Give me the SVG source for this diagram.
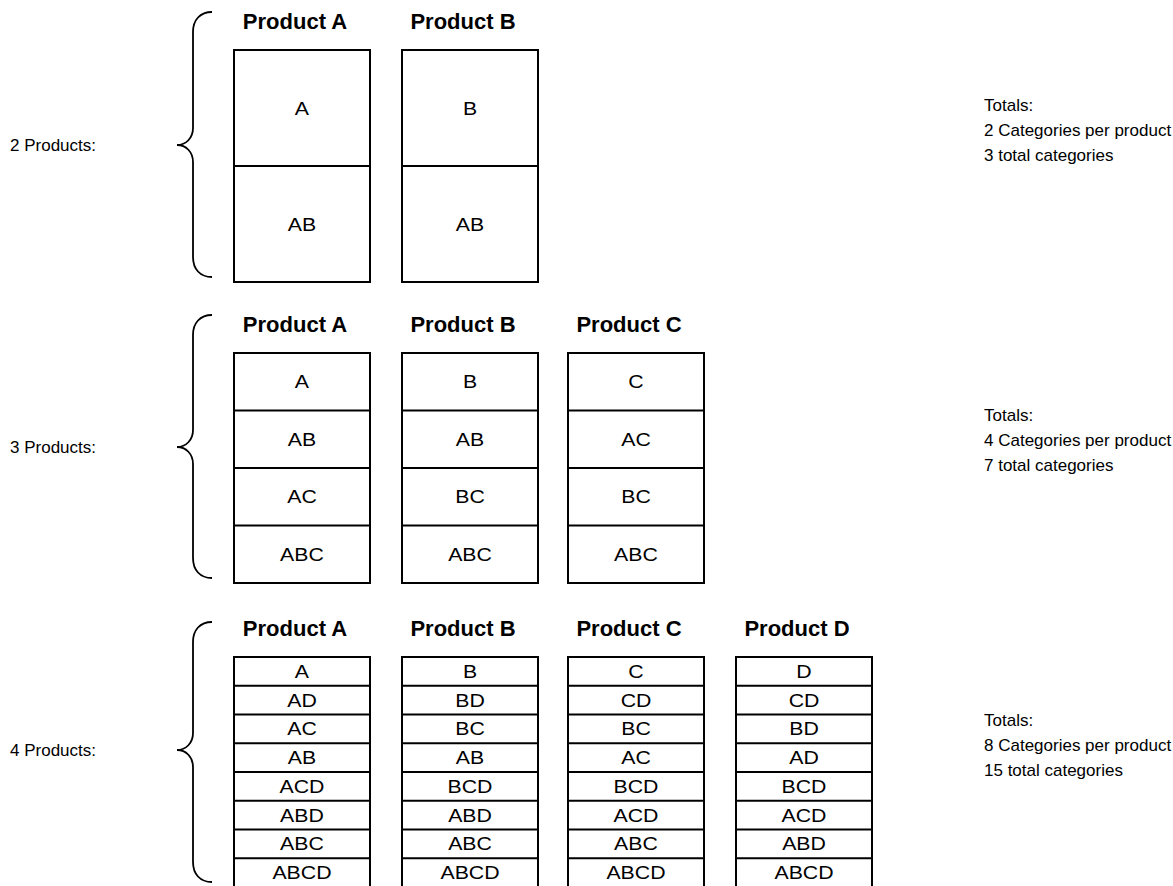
<svg xmlns="http://www.w3.org/2000/svg" width="1173" height="886" viewBox="0 0 1173 886">
<style>
text { font-family: "Liberation Sans", Arial, sans-serif; fill: #000; }
.h { font-size: 22px; font-weight: bold; text-anchor: middle; }
.c { font-size: 19px; text-anchor: middle; transform-box: fill-box; transform-origin: center; transform: scaleX(1.12); }
.l { font-size: 17px; }
.t { font-size: 17px; }
.box { fill: #fff; stroke: #000; stroke-width: 2; }
.div { stroke: #000; stroke-width: 2; }
.brace { fill: none; stroke: #000; stroke-width: 1.8; }
</style>
<rect width="1173" height="886" fill="#fff"/>

<g id="braces">
<path class="brace" d="M212,12 C200,12 193,20 193,32 L193,128 C193,138 186,145 177,145 C186,145 193,152 193,162 L193,257 C193,269 200,277 212,277"/>
<path class="brace" d="M212,315 C200,315 193,323 193,335 L193,430 C193,440 186,447 177,447 C186,447 193,454 193,464 L193,558 C193,570 200,578 212,578"/>
<path class="brace" d="M212,622 C200,622 193,630 193,642 L193,733 C193,743 186,750 177,750 C186,750 193,757 193,767 L193,862 C193,874 200,882 212,882"/>
</g>

<g id="labels">
<text class="l" x="10" y="151">2 Products:</text>
<text class="l" x="10" y="453">3 Products:</text>
<text class="l" x="10" y="756">4 Products:</text>
</g>

<g id="totals">
<text class="t" x="984" y="111">Totals:</text>
<text class="t" x="984" y="136">2 Categories per product</text>
<text class="t" x="984" y="161">3 total categories</text>
<text class="t" x="984" y="421">Totals:</text>
<text class="t" x="984" y="446">4 Categories per product</text>
<text class="t" x="984" y="471">7 total categories</text>
<text class="t" x="984" y="726">Totals:</text>
<text class="t" x="984" y="751">8 Categories per product</text>
<text class="t" x="984" y="776">15 total categories</text>
</g>

<!-- Section 1: 2 products -->
<g id="s1-productA">
<text class="h" x="295" y="29">Product A</text>
<rect class="box" x="234" y="50" width="136" height="232"/>
<line class="div" x1="234" y1="166" x2="370" y2="166"/>
<text class="c" x="302" y="115">A</text>
<text class="c" x="302" y="231">AB</text>
</g>
<g id="s1-productB">
<text class="h" x="463" y="29">Product B</text>
<rect class="box" x="402" y="50" width="136" height="232"/>
<line class="div" x1="402" y1="166" x2="538" y2="166"/>
<text class="c" x="470" y="115">B</text>
<text class="c" x="470" y="231">AB</text>
</g>

<!-- Section 2: 3 products -->
<g id="s2-productA">
<text class="h" x="295" y="332">Product A</text>
<rect class="box" x="234" y="353" width="136" height="230"/>
<line class="div" x1="234" y1="410.5" x2="370" y2="410.5"/>
<line class="div" x1="234" y1="468" x2="370" y2="468"/>
<line class="div" x1="234" y1="525.5" x2="370" y2="525.5"/>
<text class="c" x="302" y="388">A</text>
<text class="c" x="302" y="446">AB</text>
<text class="c" x="302" y="503">AC</text>
<text class="c" x="302" y="561">ABC</text>
</g>
<g id="s2-productB">
<text class="h" x="463" y="332">Product B</text>
<rect class="box" x="402" y="353" width="136" height="230"/>
<line class="div" x1="402" y1="410.5" x2="538" y2="410.5"/>
<line class="div" x1="402" y1="468" x2="538" y2="468"/>
<line class="div" x1="402" y1="525.5" x2="538" y2="525.5"/>
<text class="c" x="470" y="388">B</text>
<text class="c" x="470" y="446">AB</text>
<text class="c" x="470" y="503">BC</text>
<text class="c" x="470" y="561">ABC</text>
</g>
<g id="s2-productC">
<text class="h" x="629" y="332">Product C</text>
<rect class="box" x="568" y="353" width="136" height="230"/>
<line class="div" x1="568" y1="410.5" x2="704" y2="410.5"/>
<line class="div" x1="568" y1="468" x2="704" y2="468"/>
<line class="div" x1="568" y1="525.5" x2="704" y2="525.5"/>
<text class="c" x="636" y="388">C</text>
<text class="c" x="636" y="446">AC</text>
<text class="c" x="636" y="503">BC</text>
<text class="c" x="636" y="561">ABC</text>
</g>

<!-- Section 3: 4 products -->
<g id="s3-productA">
<text class="h" x="295" y="636">Product A</text>
<rect class="box" x="234" y="657" width="136" height="232"/>
<g class="div">
<line x1="234" y1="685.75" x2="370" y2="685.75"/>
<line x1="234" y1="714.5" x2="370" y2="714.5"/>
<line x1="234" y1="743.25" x2="370" y2="743.25"/>
<line x1="234" y1="772" x2="370" y2="772"/>
<line x1="234" y1="800.75" x2="370" y2="800.75"/>
<line x1="234" y1="829.5" x2="370" y2="829.5"/>
<line x1="234" y1="858.25" x2="370" y2="858.25"/>
</g>
<text class="c" x="302" y="678">A</text>
<text class="c" x="302" y="707">AD</text>
<text class="c" x="302" y="735">AC</text>
<text class="c" x="302" y="764">AB</text>
<text class="c" x="302" y="793">ACD</text>
<text class="c" x="302" y="822">ABD</text>
<text class="c" x="302" y="850">ABC</text>
<text class="c" x="302" y="879">ABCD</text>
</g>
<g id="s3-productB">
<text class="h" x="463" y="636">Product B</text>
<rect class="box" x="402" y="657" width="136" height="232"/>
<g class="div">
<line x1="402" y1="685.75" x2="538" y2="685.75"/>
<line x1="402" y1="714.5" x2="538" y2="714.5"/>
<line x1="402" y1="743.25" x2="538" y2="743.25"/>
<line x1="402" y1="772" x2="538" y2="772"/>
<line x1="402" y1="800.75" x2="538" y2="800.75"/>
<line x1="402" y1="829.5" x2="538" y2="829.5"/>
<line x1="402" y1="858.25" x2="538" y2="858.25"/>
</g>
<text class="c" x="470" y="678">B</text>
<text class="c" x="470" y="707">BD</text>
<text class="c" x="470" y="735">BC</text>
<text class="c" x="470" y="764">AB</text>
<text class="c" x="470" y="793">BCD</text>
<text class="c" x="470" y="822">ABD</text>
<text class="c" x="470" y="850">ABC</text>
<text class="c" x="470" y="879">ABCD</text>
</g>
<g id="s3-productC">
<text class="h" x="629" y="636">Product C</text>
<rect class="box" x="568" y="657" width="136" height="232"/>
<g class="div">
<line x1="568" y1="685.75" x2="704" y2="685.75"/>
<line x1="568" y1="714.5" x2="704" y2="714.5"/>
<line x1="568" y1="743.25" x2="704" y2="743.25"/>
<line x1="568" y1="772" x2="704" y2="772"/>
<line x1="568" y1="800.75" x2="704" y2="800.75"/>
<line x1="568" y1="829.5" x2="704" y2="829.5"/>
<line x1="568" y1="858.25" x2="704" y2="858.25"/>
</g>
<text class="c" x="636" y="678">C</text>
<text class="c" x="636" y="707">CD</text>
<text class="c" x="636" y="735">BC</text>
<text class="c" x="636" y="764">AC</text>
<text class="c" x="636" y="793">BCD</text>
<text class="c" x="636" y="822">ACD</text>
<text class="c" x="636" y="850">ABC</text>
<text class="c" x="636" y="879">ABCD</text>
</g>
<g id="s3-productD">
<text class="h" x="797" y="636">Product D</text>
<rect class="box" x="736" y="657" width="136" height="232"/>
<g class="div">
<line x1="736" y1="685.75" x2="872" y2="685.75"/>
<line x1="736" y1="714.5" x2="872" y2="714.5"/>
<line x1="736" y1="743.25" x2="872" y2="743.25"/>
<line x1="736" y1="772" x2="872" y2="772"/>
<line x1="736" y1="800.75" x2="872" y2="800.75"/>
<line x1="736" y1="829.5" x2="872" y2="829.5"/>
<line x1="736" y1="858.25" x2="872" y2="858.25"/>
</g>
<text class="c" x="804" y="678">D</text>
<text class="c" x="804" y="707">CD</text>
<text class="c" x="804" y="735">BD</text>
<text class="c" x="804" y="764">AD</text>
<text class="c" x="804" y="793">BCD</text>
<text class="c" x="804" y="822">ACD</text>
<text class="c" x="804" y="850">ABD</text>
<text class="c" x="804" y="879">ABCD</text>
</g>
</svg>
